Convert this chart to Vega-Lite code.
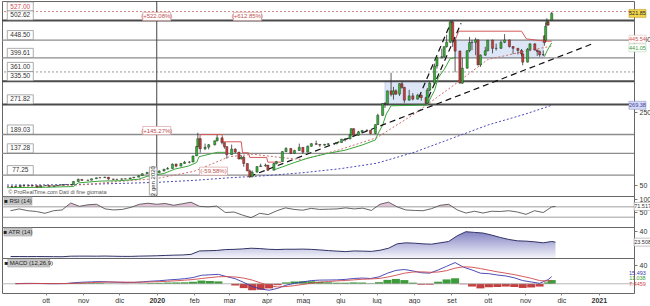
{
"$schema":"https://vega.github.io/schema/vega-lite/v6.json",
"padding":0,
"spacing":0,
"bounds":"flush",
"resolve":{"scale":{"x":"independent"},"axis":{"x":"independent"}},
"config":{"view":{"stroke":"#666","strokeWidth":1},"font":"Liberation Sans","axis":{"labelFont":"Liberation Sans","labelOverlap":false,"labelSeparation":0},"axisY":{"labelOverlap":false}},
"datasets":{
"px":[
{"d":"2019-09-03","o":45.0,"h":45.9,"l":44.2,"c":45.0},
{"d":"2019-09-06","o":45.0,"h":46.5,"l":44.8,"c":45.9},
{"d":"2019-09-10","o":45.9,"h":49.6,"l":45.5,"c":49.4},
{"d":"2019-09-13","o":49.4,"h":50.4,"l":48.6,"c":49.1},
{"d":"2019-09-17","o":49.1,"h":49.8,"l":48.2,"c":49.0},
{"d":"2019-09-20","o":49.0,"h":49.6,"l":47.6,"c":48.1},
{"d":"2019-09-24","o":48.1,"h":48.4,"l":44.0,"c":44.5},
{"d":"2019-09-27","o":44.5,"h":49.0,"l":44.2,"c":48.4},
{"d":"2019-10-01","o":48.4,"h":49.5,"l":47.6,"c":48.9},
{"d":"2019-10-04","o":48.9,"h":49.0,"l":45.8,"c":46.3},
{"d":"2019-10-08","o":46.3,"h":48.6,"l":46.0,"c":48.3},
{"d":"2019-10-11","o":48.3,"h":50.2,"l":47.8,"c":49.6},
{"d":"2019-10-15","o":49.6,"h":52.0,"l":49.2,"c":51.6},
{"d":"2019-10-18","o":51.6,"h":52.6,"l":50.8,"c":51.4},
{"d":"2019-10-22","o":51.4,"h":52.0,"l":50.6,"c":51.1},
{"d":"2019-10-24","o":51.0,"h":60.7,"l":50.8,"c":59.9},
{"d":"2019-10-28","o":59.9,"h":68.2,"l":59.4,"c":65.6},
{"d":"2019-10-31","o":65.6,"h":66.0,"l":62.0,"c":62.8},
{"d":"2019-11-05","o":62.8,"h":64.9,"l":62.3,"c":63.4},
{"d":"2019-11-08","o":63.4,"h":67.8,"l":63.0,"c":67.4},
{"d":"2019-11-12","o":67.4,"h":70.6,"l":67.0,"c":70.0},
{"d":"2019-11-15","o":70.0,"h":71.2,"l":69.0,"c":70.4},
{"d":"2019-11-19","o":70.4,"h":72.8,"l":69.8,"c":71.9},
{"d":"2019-11-22","o":71.9,"h":72.2,"l":64.4,"c":66.6},
{"d":"2019-11-26","o":66.6,"h":67.4,"l":64.8,"c":65.8},
{"d":"2019-11-29","o":65.8,"h":66.6,"l":65.4,"c":66.0},
{"d":"2019-12-03","o":66.0,"h":67.6,"l":65.0,"c":67.2},
{"d":"2019-12-06","o":67.2,"h":67.8,"l":66.4,"c":67.0},
{"d":"2019-12-10","o":67.0,"h":70.2,"l":66.8,"c":69.8},
{"d":"2019-12-13","o":69.8,"h":72.4,"l":69.2,"c":71.7},
{"d":"2019-12-17","o":71.7,"h":76.8,"l":71.2,"c":75.8},
{"d":"2019-12-20","o":75.8,"h":82.6,"l":75.6,"c":81.1},
{"d":"2019-12-24","o":81.1,"h":85.2,"l":80.6,"c":85.1},
{"d":"2019-12-27","o":85.1,"h":87.0,"l":84.0,"c":86.1},
{"d":"2019-12-31","o":86.1,"h":86.2,"l":81.6,"c":83.7},
{"d":"2020-01-03","o":83.7,"h":90.8,"l":83.6,"c":88.6},
{"d":"2020-01-07","o":88.6,"h":94.3,"l":88.0,"c":93.8},
{"d":"2020-01-10","o":93.8,"h":99.7,"l":93.0,"c":95.6},
{"d":"2020-01-14","o":95.6,"h":109.5,"l":95.0,"c":107.6},
{"d":"2020-01-17","o":107.6,"h":109.0,"l":99.0,"c":102.1},
{"d":"2020-01-21","o":102.1,"h":110.3,"l":101.8,"c":109.4},
{"d":"2020-01-24","o":109.4,"h":116.4,"l":108.6,"c":113.0},
{"d":"2020-01-28","o":113.0,"h":115.6,"l":109.8,"c":113.4},
{"d":"2020-01-31","o":113.4,"h":130.6,"l":113.0,"c":130.1},
{"d":"2020-02-03","o":130.1,"h":157.2,"l":130.0,"c":156.0},
{"d":"2020-02-04","o":156.0,"h":193.8,"l":155.0,"c":177.4},
{"d":"2020-02-06","o":177.4,"h":179.0,"l":139.0,"c":149.8},
{"d":"2020-02-10","o":149.8,"h":164.0,"l":146.0,"c":154.3},
{"d":"2020-02-13","o":154.3,"h":163.0,"l":148.0,"c":160.8},
{"d":"2020-02-18","o":160.8,"h":172.6,"l":159.0,"c":171.7},
{"d":"2020-02-20","o":171.7,"h":188.0,"l":170.0,"c":179.9},
{"d":"2020-02-24","o":179.9,"h":180.4,"l":162.0,"c":166.8},
{"d":"2020-02-26","o":166.8,"h":167.0,"l":150.0,"c":155.8},
{"d":"2020-02-28","o":155.8,"h":156.0,"l":122.3,"c":133.6},
{"d":"2020-03-03","o":133.6,"h":161.4,"l":133.0,"c":149.1},
{"d":"2020-03-06","o":149.1,"h":151.0,"l":137.2,"c":140.7},
{"d":"2020-03-09","o":140.7,"h":140.8,"l":121.2,"c":121.6},
{"d":"2020-03-11","o":121.6,"h":132.0,"l":121.0,"c":126.8},
{"d":"2020-03-13","o":126.8,"h":129.6,"l":100.4,"c":109.3},
{"d":"2020-03-16","o":109.3,"h":109.4,"l":88.4,"c":89.0},
{"d":"2020-03-18","o":89.0,"h":93.0,"l":70.1,"c":72.2},
{"d":"2020-03-20","o":72.2,"h":90.0,"l":72.0,"c":85.5},
{"d":"2020-03-24","o":85.5,"h":101.3,"l":85.0,"c":101.0},
{"d":"2020-03-27","o":101.0,"h":109.0,"l":100.0,"c":102.9},
{"d":"2020-03-31","o":102.9,"h":109.0,"l":100.4,"c":104.8},
{"d":"2020-04-02","o":104.8,"h":105.0,"l":88.5,"c":90.9},
{"d":"2020-04-07","o":90.9,"h":111.0,"l":90.5,"c":109.1},
{"d":"2020-04-09","o":109.1,"h":116.5,"l":107.0,"c":114.6},
{"d":"2020-04-14","o":114.6,"h":143.6,"l":114.0,"c":142.0},
{"d":"2020-04-17","o":142.0,"h":154.0,"l":141.0,"c":150.8},
{"d":"2020-04-21","o":150.8,"h":151.0,"l":135.0,"c":137.3},
{"d":"2020-04-24","o":137.3,"h":147.0,"l":136.0,"c":145.0},
{"d":"2020-04-28","o":145.0,"h":164.0,"l":144.0,"c":153.8},
{"d":"2020-05-01","o":153.8,"h":154.0,"l":136.6,"c":140.3},
{"d":"2020-05-05","o":140.3,"h":159.0,"l":140.0,"c":156.8},
{"d":"2020-05-08","o":156.8,"h":165.0,"l":155.0,"c":163.9},
{"d":"2020-05-12","o":163.9,"h":172.0,"l":161.0,"c":161.9},
{"d":"2020-05-15","o":161.9,"h":161.9,"l":155.0,"c":159.8},
{"d":"2020-05-19","o":159.8,"h":163.0,"l":158.0,"c":162.2},
{"d":"2020-05-22","o":162.2,"h":165.0,"l":160.0,"c":163.4},
{"d":"2020-05-27","o":163.4,"h":165.0,"l":160.0,"c":164.0},
{"d":"2020-05-29","o":164.0,"h":168.0,"l":162.0,"c":167.0},
{"d":"2020-06-02","o":167.0,"h":177.0,"l":166.0,"c":176.3},
{"d":"2020-06-05","o":176.3,"h":177.5,"l":170.0,"c":177.1},
{"d":"2020-06-09","o":177.1,"h":190.0,"l":176.0,"c":188.0},
{"d":"2020-06-10","o":188.0,"h":206.0,"l":187.0,"c":205.0},
{"d":"2020-06-12","o":205.0,"h":206.0,"l":184.0,"c":187.1},
{"d":"2020-06-16","o":187.1,"h":199.0,"l":185.0,"c":196.4},
{"d":"2020-06-19","o":196.4,"h":201.0,"l":193.0,"c":200.2},
{"d":"2020-06-23","o":200.2,"h":203.0,"l":197.0,"c":200.9},
{"d":"2020-06-26","o":200.9,"h":201.0,"l":190.0,"c":191.9},
{"d":"2020-06-30","o":191.9,"h":217.0,"l":190.0,"c":216.0},
{"d":"2020-07-02","o":216.0,"h":246.0,"l":215.0,"c":241.7},
{"d":"2020-07-06","o":241.7,"h":275.0,"l":240.0,"c":274.3},
{"d":"2020-07-08","o":274.3,"h":278.0,"l":262.0,"c":273.2},
{"d":"2020-07-10","o":273.2,"h":310.0,"l":270.0,"c":308.9},
{"d":"2020-07-13","o":308.9,"h":358.8,"l":294.0,"c":299.4},
{"d":"2020-07-15","o":299.4,"h":320.0,"l":285.0,"c":309.2},
{"d":"2020-07-17","o":309.2,"h":313.0,"l":298.0,"c":300.1},
{"d":"2020-07-20","o":300.1,"h":330.0,"l":295.0,"c":328.6},
{"d":"2020-07-22","o":328.6,"h":335.0,"l":315.0,"c":318.5},
{"d":"2020-07-24","o":318.5,"h":320.0,"l":276.0,"c":283.4},
{"d":"2020-07-28","o":283.4,"h":312.0,"l":282.0,"c":295.3},
{"d":"2020-07-31","o":295.3,"h":303.0,"l":283.0,"c":286.2},
{"d":"2020-08-04","o":286.2,"h":301.0,"l":285.0,"c":297.0},
{"d":"2020-08-07","o":297.0,"h":299.0,"l":282.0,"c":290.5},
{"d":"2020-08-11","o":290.5,"h":293.0,"l":272.0,"c":274.9},
{"d":"2020-08-12","o":274.9,"h":317.0,"l":274.0,"c":311.0},
{"d":"2020-08-14","o":311.0,"h":333.0,"l":308.0,"c":330.1},
{"d":"2020-08-18","o":330.1,"h":384.0,"l":329.0,"c":377.4},
{"d":"2020-08-20","o":377.4,"h":404.0,"l":370.0,"c":400.4},
{"d":"2020-08-24","o":400.4,"h":425.0,"l":398.0,"c":402.8},
{"d":"2020-08-26","o":402.8,"h":431.0,"l":400.0,"c":430.6},
{"d":"2020-08-28","o":430.6,"h":463.0,"l":428.0,"c":442.7},
{"d":"2020-08-31","o":442.7,"h":500.1,"l":440.0,"c":498.3},
{"d":"2020-09-02","o":498.3,"h":502.5,"l":430.0,"c":447.4},
{"d":"2020-09-04","o":447.4,"h":452.0,"l":360.0,"c":418.3},
{"d":"2020-09-08","o":418.3,"h":420.0,"l":329.9,"c":330.2},
{"d":"2020-09-10","o":330.2,"h":400.0,"l":328.0,"c":371.3},
{"d":"2020-09-14","o":371.3,"h":420.0,"l":370.0,"c":419.6},
{"d":"2020-09-16","o":419.6,"h":457.0,"l":415.0,"c":441.8},
{"d":"2020-09-18","o":441.8,"h":449.0,"l":421.0,"c":442.2},
{"d":"2020-09-21","o":442.2,"h":455.0,"l":407.0,"c":449.4},
{"d":"2020-09-23","o":449.4,"h":450.0,"l":379.0,"c":380.4},
{"d":"2020-09-25","o":380.4,"h":409.0,"l":375.0,"c":407.3},
{"d":"2020-09-29","o":407.3,"h":430.0,"l":405.0,"c":419.1},
{"d":"2020-10-01","o":419.1,"h":448.9,"l":418.0,"c":448.2},
{"d":"2020-10-05","o":448.2,"h":450.0,"l":412.0,"c":425.7},
{"d":"2020-10-08","o":425.7,"h":439.0,"l":420.0,"c":425.9},
{"d":"2020-10-12","o":425.9,"h":448.0,"l":424.0,"c":442.3},
{"d":"2020-10-15","o":442.3,"h":465.0,"l":440.0,"c":448.9},
{"d":"2020-10-19","o":448.9,"h":450.0,"l":428.0,"c":430.8},
{"d":"2020-10-22","o":430.8,"h":432.0,"l":410.0,"c":425.8},
{"d":"2020-10-26","o":425.8,"h":427.0,"l":409.0,"c":420.3},
{"d":"2020-10-29","o":420.3,"h":424.0,"l":405.0,"c":410.8},
{"d":"2020-10-30","o":410.8,"h":411.0,"l":379.1,"c":388.0},
{"d":"2020-11-03","o":388.0,"h":427.0,"l":387.0,"c":423.4},
{"d":"2020-11-05","o":423.4,"h":440.0,"l":418.0,"c":438.1},
{"d":"2020-11-09","o":438.1,"h":440.0,"l":420.0,"c":421.3},
{"d":"2020-11-11","o":421.3,"h":422.0,"l":405.0,"c":417.1},
{"d":"2020-11-13","o":417.1,"h":420.0,"l":403.0,"c":408.5},
{"d":"2020-11-16","o":408.5,"h":420.0,"l":405.0,"c":408.1},
{"d":"2020-11-17","o":460.2,"h":462.0,"l":433.2,"c":441.6},
{"d":"2020-11-18","o":448.3,"h":496.0,"l":443.5,"c":486.6},
{"d":"2020-11-19","o":492.0,"h":508.6,"l":487.6,"c":499.3},
{"d":"2020-11-20","o":498.0,"h":502.5,"l":489.1,"c":489.6},
{"d":"2020-11-23","o":503.5,"h":526.0,"l":501.8,"c":521.85}
],
"ind":[
{"d":"2019-09-06","rsi":55,"atr":2.2,"macd":0.3,"sig":0.2,"hist":0.1},
{"d":"2019-09-13","rsi":62,"atr":2.2,"macd":0.8,"sig":0.4,"hist":0.4},
{"d":"2019-09-20","rsi":55,"atr":2.1,"macd":0.9,"sig":0.6,"hist":0.3},
{"d":"2019-09-27","rsi":52,"atr":2.2,"macd":0.6,"sig":0.6,"hist":0.0},
{"d":"2019-10-04","rsi":45,"atr":2.1,"macd":0.2,"sig":0.5,"hist":-0.3},
{"d":"2019-10-11","rsi":55,"atr":2.0,"macd":0.3,"sig":0.4,"hist":-0.1},
{"d":"2019-10-18","rsi":58,"atr":1.9,"macd":0.6,"sig":0.5,"hist":0.1},
{"d":"2019-10-25","rsi":85,"atr":2.7,"macd":2.5,"sig":1.0,"hist":1.5},
{"d":"2019-11-01","rsi":72,"atr":2.8,"macd":3.5,"sig":1.8,"hist":1.7},
{"d":"2019-11-08","rsi":78,"atr":2.8,"macd":4.2,"sig":2.6,"hist":1.6},
{"d":"2019-11-15","rsi":80,"atr":2.7,"macd":4.8,"sig":3.3,"hist":1.5},
{"d":"2019-11-22","rsi":62,"atr":2.9,"macd":4.2,"sig":3.7,"hist":0.5},
{"d":"2019-11-29","rsi":58,"atr":2.6,"macd":3.4,"sig":3.7,"hist":-0.3},
{"d":"2019-12-06","rsi":60,"atr":2.4,"macd":2.9,"sig":3.5,"hist":-0.6},
{"d":"2019-12-13","rsi":68,"atr":2.4,"macd":3.0,"sig":3.3,"hist":-0.3},
{"d":"2019-12-20","rsi":80,"atr":2.8,"macd":4.2,"sig":3.5,"hist":0.7},
{"d":"2019-12-27","rsi":84,"atr":3.0,"macd":5.6,"sig":4.0,"hist":1.6},
{"d":"2020-01-03","rsi":80,"atr":3.3,"macd":6.6,"sig":4.6,"hist":2.0},
{"d":"2020-01-10","rsi":83,"atr":3.8,"macd":8.2,"sig":5.5,"hist":2.7},
{"d":"2020-01-17","rsi":76,"atr":4.2,"macd":9.5,"sig":6.6,"hist":2.9},
{"d":"2020-01-24","rsi":82,"atr":4.5,"macd":11.0,"sig":7.8,"hist":3.2},
{"d":"2020-01-31","rsi":88,"atr":5.4,"macd":13.5,"sig":9.2,"hist":4.3},
{"d":"2020-02-07","rsi":72,"atr":10.5,"macd":18.5,"sig":11.5,"hist":7.0},
{"d":"2020-02-14","rsi":70,"atr":10.8,"macd":19.5,"sig":13.4,"hist":6.1},
{"d":"2020-02-21","rsi":73,"atr":11.2,"macd":20.5,"sig":15.3,"hist":5.2},
{"d":"2020-02-28","rsi":48,"atr":12.5,"macd":15.5,"sig":15.6,"hist":-0.1},
{"d":"2020-03-06","rsi":50,"atr":12.8,"macd":11.0,"sig":14.7,"hist":-3.7},
{"d":"2020-03-13","rsi":38,"atr":13.5,"macd":3.0,"sig":12.4,"hist":-9.4},
{"d":"2020-03-20","rsi":28,"atr":14.5,"macd":-6.0,"sig":8.0,"hist":-14.0},
{"d":"2020-03-27","rsi":45,"atr":14.0,"macd":-11.0,"sig":2.0,"hist":-13.0},
{"d":"2020-04-03","rsi":40,"atr":13.0,"macd":-14.0,"sig":-4.0,"hist":-10.0},
{"d":"2020-04-10","rsi":55,"atr":12.5,"macd":-10.0,"sig":-7.0,"hist":-3.0},
{"d":"2020-04-17","rsi":66,"atr":13.0,"macd":-3.0,"sig":-6.0,"hist":3.0},
{"d":"2020-04-24","rsi":60,"atr":13.0,"macd":1.0,"sig":-4.0,"hist":5.0},
{"d":"2020-05-01","rsi":57,"atr":13.2,"macd":4.0,"sig":-1.5,"hist":5.5},
{"d":"2020-05-08","rsi":64,"atr":12.8,"macd":7.0,"sig":1.5,"hist":5.5},
{"d":"2020-05-15","rsi":60,"atr":12.0,"macd":8.0,"sig":3.5,"hist":4.5},
{"d":"2020-05-22","rsi":61,"atr":11.0,"macd":8.2,"sig":5.0,"hist":3.2},
{"d":"2020-05-29","rsi":62,"atr":10.2,"macd":8.5,"sig":6.2,"hist":2.3},
{"d":"2020-06-05","rsi":66,"atr":9.5,"macd":9.5,"sig":7.2,"hist":2.3},
{"d":"2020-06-12","rsi":62,"atr":10.5,"macd":11.5,"sig":8.5,"hist":3.0},
{"d":"2020-06-19","rsi":65,"atr":10.2,"macd":12.5,"sig":9.8,"hist":2.7},
{"d":"2020-06-26","rsi":56,"atr":9.8,"macd":11.5,"sig":10.5,"hist":1.0},
{"d":"2020-07-03","rsi":80,"atr":11.5,"macd":15.0,"sig":11.5,"hist":3.5},
{"d":"2020-07-10","rsi":88,"atr":14.5,"macd":23.0,"sig":14.5,"hist":8.5},
{"d":"2020-07-17","rsi":70,"atr":21.0,"macd":29.0,"sig":18.5,"hist":10.5},
{"d":"2020-07-24","rsi":58,"atr":22.5,"macd":31.0,"sig":23.0,"hist":8.0},
{"d":"2020-07-31","rsi":56,"atr":22.0,"macd":28.0,"sig":25.5,"hist":2.5},
{"d":"2020-08-07","rsi":55,"atr":21.0,"macd":24.0,"sig":26.0,"hist":-2.0},
{"d":"2020-08-14","rsi":63,"atr":20.5,"macd":23.0,"sig":25.0,"hist":-2.0},
{"d":"2020-08-21","rsi":76,"atr":22.5,"macd":30.0,"sig":25.5,"hist":4.5},
{"d":"2020-08-28","rsi":80,"atr":24.5,"macd":38.0,"sig":28.5,"hist":9.5},
{"d":"2020-09-04","rsi":58,"atr":33.0,"macd":46.0,"sig":34.0,"hist":12.0},
{"d":"2020-09-11","rsi":46,"atr":39.0,"macd":36.0,"sig":37.0,"hist":-1.0},
{"d":"2020-09-18","rsi":53,"atr":38.0,"macd":30.0,"sig":36.0,"hist":-6.0},
{"d":"2020-09-25","rsi":46,"atr":37.0,"macd":23.0,"sig":33.0,"hist":-10.0},
{"d":"2020-10-02","rsi":53,"atr":34.0,"macd":22.0,"sig":29.5,"hist":-7.5},
{"d":"2020-10-09","rsi":52,"atr":30.5,"macd":19.0,"sig":26.0,"hist":-7.0},
{"d":"2020-10-16","rsi":55,"atr":27.5,"macd":17.0,"sig":23.0,"hist":-6.0},
{"d":"2020-10-23","rsi":50,"atr":25.5,"macd":13.0,"sig":20.0,"hist":-7.0},
{"d":"2020-10-30","rsi":41,"atr":25.0,"macd":7.0,"sig":16.0,"hist":-9.0},
{"d":"2020-11-06","rsi":55,"atr":24.0,"macd":4.0,"sig":12.0,"hist":-8.0},
{"d":"2020-11-13","rsi":48,"atr":22.5,"macd":1.0,"sig":7.0,"hist":-6.0},
{"d":"2020-11-20","rsi":70,"atr":24.5,"macd":9.0,"sig":6.0,"hist":3.0},
{"d":"2020-11-23","rsi":71.5,"atr":23.5,"macd":15.5,"sig":7.4,"hist":8.1}
],
"lv":[
{"v":527,"lbl":"527.00","k":"target"},
{"v":502.62,"lbl":"502.62","k":"major"},
{"v":448.5,"lbl":"448.50","k":"minor"},
{"v":399.61,"lbl":"399.61","k":"minor"},
{"v":361,"lbl":"361.00","k":"dotted"},
{"v":335.5,"lbl":"335.50","k":"major"},
{"v":271.82,"lbl":"271.82","k":"major"},
{"v":189.03,"lbl":"189.03","k":"minor"},
{"v":137.28,"lbl":"137.28","k":"minor"},
{"v":77.25,"lbl":"77.25","k":"minor"}
],
"ma":[
{"d":"2019-08-30","k":"ma200","v":50},{"d":"2019-10-01","k":"ma200","v":50.5},{"d":"2019-11-01","k":"ma200","v":52},{"d":"2019-12-01","k":"ma200","v":54.5},{"d":"2020-01-01","k":"ma200","v":57.5},{"d":"2020-02-01","k":"ma200","v":63},{"d":"2020-03-01","k":"ma200","v":70},{"d":"2020-04-01","k":"ma200","v":76},{"d":"2020-05-01","k":"ma200","v":84},{"d":"2020-06-01","k":"ma200","v":95},{"d":"2020-07-01","k":"ma200","v":110},{"d":"2020-08-01","k":"ma200","v":140},{"d":"2020-09-01","k":"ma200","v":178},{"d":"2020-10-01","k":"ma200","v":215},{"d":"2020-11-01","k":"ma200","v":245},{"d":"2020-11-23","k":"ma200","v":269.4},
{"d":"2019-08-30","k":"ma50","v":46},{"d":"2019-10-01","k":"ma50","v":47.5},{"d":"2019-11-01","k":"ma50","v":51},{"d":"2019-12-01","k":"ma50","v":60},{"d":"2020-01-01","k":"ma50","v":68},{"d":"2020-02-01","k":"ma50","v":88},{"d":"2020-03-01","k":"ma50","v":128},{"d":"2020-03-20","k":"ma50","v":135},{"d":"2020-04-15","k":"ma50","v":125},{"d":"2020-05-01","k":"ma50","v":120},{"d":"2020-06-01","k":"ma50","v":148},{"d":"2020-07-01","k":"ma50","v":180},{"d":"2020-08-01","k":"ma50","v":245},{"d":"2020-09-01","k":"ma50","v":320},{"d":"2020-10-01","k":"ma50","v":395},{"d":"2020-11-01","k":"ma50","v":418},{"d":"2020-11-23","k":"ma50","v":432}
],
"stop":[
{"d":"2019-08-30","v":43,"seg":"g1","k":"g"},{"d":"2019-10-01","v":44,"seg":"g1","k":"g"},{"d":"2019-10-24","v":46,"seg":"g1","k":"g"},{"d":"2019-10-28","v":56,"seg":"g1","k":"g"},{"d":"2019-11-15","v":61,"seg":"g1","k":"g"},{"d":"2019-12-01","v":62,"seg":"g1","k":"g"},{"d":"2019-12-17","v":66,"seg":"g1","k":"g"},{"d":"2019-12-24","v":74,"seg":"g1","k":"g"},{"d":"2020-01-07","v":82,"seg":"g1","k":"g"},{"d":"2020-01-16","v":94,"seg":"g1","k":"g"},{"d":"2020-01-27","v":102,"seg":"g1","k":"g"},{"d":"2020-02-03","v":112,"seg":"g1","k":"g"},{"d":"2020-02-05","v":128,"seg":"g1","k":"g"},{"d":"2020-02-20","v":140,"seg":"g1","k":"g"},{"d":"2020-02-27","v":140,"seg":"g1","k":"g"},
{"d":"2020-02-05","v":150,"seg":"r1","k":"r"},{"d":"2020-02-06","v":189,"seg":"r1","k":"r"},{"d":"2020-02-24","v":189,"seg":"r1","k":"r"},{"d":"2020-02-25","v":169,"seg":"r1","k":"r"},{"d":"2020-03-11","v":169,"seg":"r1","k":"r"},{"d":"2020-03-12","v":139,"seg":"r1","k":"r"},{"d":"2020-03-17","v":139,"seg":"r1","k":"r"},{"d":"2020-03-18","v":126,"seg":"r1","k":"r"},{"d":"2020-04-01","v":126,"seg":"r1","k":"r"},{"d":"2020-04-02","v":113,"seg":"r1","k":"r"},{"d":"2020-04-13","v":113,"seg":"r1","k":"r"},
{"d":"2020-04-08","v":93,"seg":"g2","k":"g"},{"d":"2020-04-14","v":100,"seg":"g2","k":"g"},{"d":"2020-04-24","v":112,"seg":"g2","k":"g"},{"d":"2020-05-05","v":124,"seg":"g2","k":"g"},{"d":"2020-05-20","v":136,"seg":"g2","k":"g"},{"d":"2020-06-05","v":146,"seg":"g2","k":"g"},{"d":"2020-06-19","v":160,"seg":"g2","k":"g"},{"d":"2020-06-30","v":174,"seg":"g2","k":"g"},{"d":"2020-07-02","v":190,"seg":"g2","k":"g"},{"d":"2020-07-06","v":215,"seg":"g2","k":"g"},{"d":"2020-07-09","v":245,"seg":"g2","k":"g"},{"d":"2020-07-13","v":268,"seg":"g2","k":"g"},{"d":"2020-08-12","v":270,"seg":"g2","k":"g"},{"d":"2020-08-14","v":285,"seg":"g2","k":"g"},{"d":"2020-08-18","v":310,"seg":"g2","k":"g"},{"d":"2020-08-21","v":345,"seg":"g2","k":"g"},{"d":"2020-08-26","v":368,"seg":"g2","k":"g"},{"d":"2020-08-31","v":398,"seg":"g2","k":"g"},{"d":"2020-09-04","v":400,"seg":"g2","k":"g"},
{"d":"2020-09-04","v":448,"seg":"r2","k":"r"},{"d":"2020-09-07","v":473,"seg":"r2","k":"r"},{"d":"2020-10-29","v":473,"seg":"r2","k":"r"},{"d":"2020-11-02","v":452,"seg":"r2","k":"r"},{"d":"2020-11-17","v":445.5,"seg":"r2","k":"r"},{"d":"2020-11-23","v":445.54,"seg":"r2","k":"r"},
{"d":"2020-11-17","v":403,"seg":"g3","k":"g"},{"d":"2020-11-19","v":418,"seg":"g3","k":"g"},{"d":"2020-11-23","v":441.05,"seg":"g3","k":"g"}
],
"trend":[
{"d":"2020-03-18","v":74,"id":"t1"},{"d":"2020-12-28","v":440,"id":"t1"},
{"d":"2020-08-05","v":291,"id":"t2"},{"d":"2020-09-01","v":500,"id":"t2"},
{"d":"2020-08-13","v":291,"id":"t3"},{"d":"2020-09-09","v":495,"id":"t3"}
],
"box":[
{"d1":"2020-07-08","d2":"2020-08-14","lo":271.82,"hi":335.5},
{"d1":"2020-09-04","d2":"2020-11-16","lo":399.61,"hi":448.5}
],
"pct":[
{"d":"2020-01-01","v":502.62,"t":"(+522.08%)"},
{"d":"2020-03-16","v":502.62,"t":"(+612.85%)"},
{"d":"2020-01-01","v":189.03,"t":"(+145.27%)"},
{"d":"2020-02-17","v":77.25,"t":"(-59.58%)"}
]
},
"vconcat":[
{
"width":632,"height":195,
"layer":[
{"data":{"name":"box"},"mark":{"type":"rect","fill":"#dce6f6","stroke":"#a8b8d8","strokeWidth":0.6},
 "encoding":{"x":{"field":"d1","type":"temporal","scale":{"domain":[{"year":2019,"month":8,"date":30},{"year":2021,"month":1,"date":26}]},"axis":null},"x2":{"field":"d2"},
 "y":{"field":"lo","type":"quantitative","scale":{"domain":[20,556],"nice":false,"zero":false},"title":null,"axis":{"orient":"right","title":null,"values":[50,100,150,200,250,300,350,400,450,500,550],"labelOverlap":false,"labelSeparation":0,"labelFontSize":7,"labelColor":"#333","tickSize":3,"tickColor":"#777","domain":false,"grid":false,"labelPadding":2}},"y2":{"field":"hi"}}},
{"data":{"name":"lv"},"transform":[{"filter":"datum.k=='minor'"}],"mark":{"type":"rule","color":"#8c8c8c","strokeWidth":1.3},"encoding":{"y":{"field":"v","type":"quantitative","title":null}}},
{"data":{"name":"lv"},"transform":[{"filter":"datum.k=='major'"}],"mark":{"type":"rule","color":"#4a4a4a","strokeWidth":2},"encoding":{"y":{"field":"v","type":"quantitative","title":null}}},
{"data":{"name":"lv"},"transform":[{"filter":"datum.k=='dotted'"}],"mark":{"type":"rule","color":"#999","strokeWidth":1,"strokeDash":[2,2]},"encoding":{"y":{"field":"v","type":"quantitative","title":null}}},
{"data":{"name":"lv"},"transform":[{"filter":"datum.k=='target'"}],"mark":{"type":"rule","color":"#d08a8a","strokeWidth":1,"strokeDash":[2,2]},"encoding":{"y":{"field":"v","type":"quantitative","title":null}}},
{"data":{"name":"ma"},"transform":[{"filter":"datum.k=='ma200'"}],"mark":{"type":"line","color":"#4a4ab8","strokeWidth":1,"strokeDash":[2,2]},"encoding":{"x":{"field":"d","type":"temporal","axis":null},"y":{"field":"v","type":"quantitative","title":null}}},
{"data":{"name":"ma"},"transform":[{"filter":"datum.k=='ma50'"}],"mark":{"type":"line","color":"#d07070","strokeWidth":1,"strokeDash":[2,2]},"encoding":{"x":{"field":"d","type":"temporal","axis":null},"y":{"field":"v","type":"quantitative","title":null}}},
{"data":{"name":"stop"},"mark":{"type":"line","strokeWidth":1},"encoding":{"x":{"field":"d","type":"temporal","axis":null},"y":{"field":"v","type":"quantitative","title":null},"detail":{"field":"seg"},"color":{"field":"k","type":"nominal","scale":{"domain":["g","r"],"range":["#3aa63a","#d65a5a"]},"legend":null}}},
{"data":{"name":"trend"},"mark":{"type":"line","color":"#111","strokeWidth":1.2,"strokeDash":[6,4]},"encoding":{"x":{"field":"d","type":"temporal","axis":null},"y":{"field":"v","type":"quantitative","title":null},"detail":{"field":"id"}}},
{"data":{"values":[{}]},"mark":{"type":"rule","color":"#444","strokeWidth":1},"encoding":{"x":{"datum":{"year":2020,"month":1,"date":1},"type":"temporal","axis":null}}},
{"data":{"name":"px"},"mark":{"type":"rule","color":"#333","strokeWidth":0.8},"encoding":{"x":{"field":"d","type":"temporal","axis":null},"y":{"field":"l","type":"quantitative","title":null},"y2":{"field":"h"}}},
{"data":{"name":"px"},"mark":{"type":"bar","size":2.2,"stroke":"#222","strokeWidth":0.4},"encoding":{"x":{"field":"d","type":"temporal","axis":null},"y":{"field":"o","type":"quantitative","title":null},"y2":{"field":"c"},"fill":{"condition":{"test":"datum.c >= datum.o","value":"#33b033"},"value":"#cc3a3a"}}},
{"data":{"name":"lv"},"mark":{"type":"point","shape":"M-1,-0.35H1V0.35H-1Z","size":676,"filled":true,"fill":"white","stroke":"#888","strokeWidth":0.7,"opacity":1,"yOffset":-5},"encoding":{"x":{"datum":{"year":2019,"month":9,"date":10},"type":"temporal","axis":null},"y":{"field":"v","type":"quantitative","title":null}}},
{"data":{"name":"lv"},"mark":{"type":"text","fontSize":6.5,"yOffset":-5,"align":"center","baseline":"middle"},"encoding":{"x":{"datum":{"year":2019,"month":9,"date":10},"type":"temporal","axis":null},"y":{"field":"v","type":"quantitative","title":null},"text":{"field":"lbl"},"color":{"condition":{"test":"datum.k=='target'","value":"#d05050"},"value":"#333"}}},
{"data":{"name":"pct"},"mark":{"type":"point","shape":"M-1,-0.29H1V0.29H-1Z","size":784,"filled":true,"fill":"white","stroke":"#d8a0a0","strokeWidth":0.7,"opacity":1,"yOffset":-4},"encoding":{"x":{"field":"d","type":"temporal","axis":null},"y":{"field":"v","type":"quantitative","title":null}}},
{"data":{"name":"pct"},"mark":{"type":"text","fontSize":6,"yOffset":-4,"color":"#c05050","baseline":"middle"},"encoding":{"x":{"field":"d","type":"temporal","axis":null},"y":{"field":"v","type":"quantitative","title":null},"text":{"field":"t"}}},
{"data":{"values":[{"v":521.85,"t":"521.85"}]},"mark":{"type":"point","shape":"M-1,-0.47H1V0.47H-1Z","size":289,"filled":true,"fill":"#f2d64b","stroke":"#b09020","strokeWidth":0.5,"opacity":1},"encoding":{"x":{"datum":{"year":2021,"month":2,"date":2},"type":"temporal","axis":null},"y":{"field":"v","type":"quantitative","title":null}}},
{"data":{"values":[{"v":269.38,"t":"269.38"}]},"mark":{"type":"point","shape":"M-1,-0.47H1V0.47H-1Z","size":289,"filled":true,"fill":"#d6dcf5","stroke":"#8088c0","strokeWidth":0.5,"opacity":1},"encoding":{"x":{"datum":{"year":2021,"month":2,"date":2},"type":"temporal","axis":null},"y":{"field":"v","type":"quantitative","title":null}}},
{"data":{"values":[{"v":445.54}]},"mark":{"type":"point","shape":"M-1,-0.47H1V0.47H-1Z","size":289,"filled":true,"fill":"white","stroke":"#e0b0b0","strokeWidth":0.5,"opacity":1,"yOffset":-2},"encoding":{"x":{"datum":{"year":2021,"month":2,"date":2},"type":"temporal","axis":null},"y":{"field":"v","type":"quantitative","title":null}}},
{"data":{"values":[{"v":441.05}]},"mark":{"type":"point","shape":"M-1,-0.47H1V0.47H-1Z","size":289,"filled":true,"fill":"white","stroke":"#a8d0a8","strokeWidth":0.5,"opacity":1,"yOffset":5},"encoding":{"x":{"datum":{"year":2021,"month":2,"date":2},"type":"temporal","axis":null},"y":{"field":"v","type":"quantitative","title":null}}},
{"data":{"values":[{"v":521.85,"t":"521.85","c":"#222"},{"v":269.38,"t":"269.38","c":"#4040a0"}]},"mark":{"type":"text","fontSize":5.5,"baseline":"middle"},"encoding":{"x":{"datum":{"year":2021,"month":2,"date":2},"type":"temporal","axis":null},"y":{"field":"v","type":"quantitative","title":null},"text":{"field":"t"},"color":{"field":"c","type":"nominal","scale":null}}},
{"data":{"values":[{"v":445.54,"t":"445.54"}]},"mark":{"type":"text","fontSize":5.5,"baseline":"middle","color":"#d05050","yOffset":-2},"encoding":{"x":{"datum":{"year":2021,"month":2,"date":2},"type":"temporal","axis":null},"y":{"field":"v","type":"quantitative","title":null},"text":{"field":"t"}}},
{"data":{"values":[{"v":441.05,"t":"441.05"}]},"mark":{"type":"text","fontSize":5.5,"baseline":"middle","color":"#3a9a3a","yOffset":5},"encoding":{"x":{"datum":{"year":2021,"month":2,"date":2},"type":"temporal","axis":null},"y":{"field":"v","type":"quantitative","title":null},"text":{"field":"t"}}},
{"data":{"values":[{"v":61}]},"mark":{"type":"point","shape":"M-0.27,-1H0.27V1H-0.27Z","size":784,"filled":true,"fill":"white","stroke":"#888","strokeWidth":0.7,"opacity":1},"encoding":{"x":{"datum":{"year":2019,"month":12,"date":29},"type":"temporal","axis":null},"y":{"field":"v","type":"quantitative","title":null}}},
{"data":{"values":[{"v":61,"t":"2 gen 2020"}]},"mark":{"type":"text","fontSize":6,"angle":270,"baseline":"middle","color":"#333"},"encoding":{"x":{"datum":{"year":2019,"month":12,"date":29},"type":"temporal","axis":null},"y":{"field":"v","type":"quantitative","title":null},"text":{"field":"t"}}},
{"data":{"values":[{"v":31,"t":"© ProRealTime.com  Dati di fine giornata"}]},"mark":{"type":"text","fontSize":5.5,"align":"left","baseline":"middle","color":"#555"},"encoding":{"x":{"datum":{"year":2019,"month":8,"date":31},"type":"temporal","axis":null},"y":{"field":"v","type":"quantitative","title":null},"text":{"field":"t"}}}
]
},
{
"width":632,"height":31,
"layer":[
{"data":{"name":"ind"},"mark":{"type":"area","color":"#e4c4d8","opacity":1},"encoding":{"x":{"field":"d","type":"temporal","scale":{"domain":[{"year":2019,"month":8,"date":30},{"year":2021,"month":1,"date":26}]},"axis":null},"y":{"field":"rsi","type":"quantitative","scale":{"domain":[-8,112],"nice":false,"zero":false},"title":null,"axis":{"orient":"right","title":null,"values":[50,100],"labelOverlap":false,"labelFontSize":7,"labelColor":"#333","tickSize":3,"tickColor":"#777","domain":false,"grid":false,"labelPadding":2}},"y2":{"datum":70}}},
{"data":{"name":"ind"},"mark":{"type":"area","color":"white","opacity":1},"encoding":{"x":{"field":"d","type":"temporal","axis":null},"y":{"datum":70,"type":"quantitative","title":null},"y2":{"datum":-8}}},
{"data":{"values":[{"v":70},{"v":30}]},"mark":{"type":"rule","color":"#888","strokeWidth":0.8},"encoding":{"y":{"field":"v","type":"quantitative","title":null}}},
{"data":{"name":"ind"},"mark":{"type":"line","color":"#555","strokeWidth":0.9},"encoding":{"x":{"field":"d","type":"temporal","axis":null},"y":{"field":"rsi","type":"quantitative","title":null}}},
{"data":{"values":[{"v":71.517,"t":"71.517"}]},"mark":{"type":"point","shape":"M-1,-0.47H1V0.47H-1Z","size":289,"filled":true,"fill":"white","stroke":"#888","strokeWidth":0.5,"opacity":1},"encoding":{"x":{"datum":{"year":2021,"month":2,"date":2},"type":"temporal","axis":null},"y":{"field":"v","type":"quantitative","title":null}}},
{"data":{"values":[{"v":71.517,"t":"71.517"}]},"mark":{"type":"text","fontSize":5.5,"baseline":"middle","color":"#333"},"encoding":{"x":{"datum":{"year":2021,"month":2,"date":2},"type":"temporal","axis":null},"y":{"field":"v","type":"quantitative","title":null},"text":{"field":"t"}}},
{"data":{"values":[{"v":112}]},"mark":{"type":"point","shape":"M-1,-0.29H1V0.29H-1Z","size":784,"filled":true,"fill":"#c8c8c8","stroke":"#999","strokeWidth":0.5,"opacity":1,"yOffset":5},"encoding":{"x":{"datum":{"year":2019,"month":9,"date":12},"type":"temporal","axis":null},"y":{"field":"v","type":"quantitative","title":null}}},
{"data":{"values":[{"v":112,"t":"■ RSI (14)"}]},"mark":{"type":"text","fontSize":6,"baseline":"middle","color":"#222","yOffset":5},"encoding":{"x":{"datum":{"year":2019,"month":9,"date":12},"type":"temporal","axis":null},"y":{"field":"v","type":"quantitative","title":null},"text":{"field":"t"}}}
]
},
{
"width":632,"height":31,
"layer":[
{"data":{"name":"ind"},"mark":{"type":"area","opacity":1,"color":{"gradient":"linear","x1":0,"y1":1,"x2":0,"y2":0,"stops":[{"offset":0,"color":"#f4f4fb"},{"offset":1,"color":"#8484c4"}]}},"encoding":{"x":{"field":"d","type":"temporal","scale":{"domain":[{"year":2019,"month":8,"date":30},{"year":2021,"month":1,"date":26}]},"axis":null},"y":{"field":"atr","type":"quantitative","scale":{"domain":[0,46],"nice":false,"zero":false},"title":null,"axis":{"orient":"right","title":null,"values":[40],"labelOverlap":false,"labelFontSize":7,"labelColor":"#333","tickSize":3,"tickColor":"#777","domain":false,"grid":false,"labelPadding":2}},"y2":{"datum":0}}},
{"data":{"name":"ind"},"mark":{"type":"line","color":"#333366","strokeWidth":1},"encoding":{"x":{"field":"d","type":"temporal","axis":null},"y":{"field":"atr","type":"quantitative","title":null}}},
{"data":{"values":[{"v":23.508,"t":"23.508"}]},"mark":{"type":"point","shape":"M-1,-0.47H1V0.47H-1Z","size":289,"filled":true,"fill":"white","stroke":"#888","strokeWidth":0.5,"opacity":1},"encoding":{"x":{"datum":{"year":2021,"month":2,"date":2},"type":"temporal","axis":null},"y":{"field":"v","type":"quantitative","title":null}}},
{"data":{"values":[{"v":23.508,"t":"23.508"}]},"mark":{"type":"text","fontSize":5.5,"baseline":"middle","color":"#333"},"encoding":{"x":{"datum":{"year":2021,"month":2,"date":2},"type":"temporal","axis":null},"y":{"field":"v","type":"quantitative","title":null},"text":{"field":"t"}}},
{"data":{"values":[{"v":46}]},"mark":{"type":"point","shape":"M-1,-0.29H1V0.29H-1Z","size":784,"filled":true,"fill":"#c8c8c8","stroke":"#999","strokeWidth":0.5,"opacity":1,"yOffset":5},"encoding":{"x":{"datum":{"year":2019,"month":9,"date":12},"type":"temporal","axis":null},"y":{"field":"v","type":"quantitative","title":null}}},
{"data":{"values":[{"v":46,"t":"■ ATR (14)"}]},"mark":{"type":"text","fontSize":6,"baseline":"middle","color":"#222","yOffset":5},"encoding":{"x":{"datum":{"year":2019,"month":9,"date":12},"type":"temporal","axis":null},"y":{"field":"v","type":"quantitative","title":null},"text":{"field":"t"}}}
]
},
{
"width":632,"height":35,
"layer":[
{"data":{"name":"ind"},"mark":{"type":"bar","size":8},"encoding":{"x":{"field":"d","type":"temporal","scale":{"domain":[{"year":2019,"month":8,"date":30},{"year":2021,"month":1,"date":26}]},"title":null,"axis":{"title":null,"orient":"bottom","values":[{"year":2019,"month":10,"date":1},{"year":2019,"month":11,"date":1},{"year":2019,"month":12,"date":1},{"year":2020,"month":1,"date":1},{"year":2020,"month":2,"date":1},{"year":2020,"month":3,"date":1},{"year":2020,"month":4,"date":1},{"year":2020,"month":5,"date":1},{"year":2020,"month":6,"date":1},{"year":2020,"month":7,"date":1},{"year":2020,"month":8,"date":1},{"year":2020,"month":9,"date":1},{"year":2020,"month":10,"date":1},{"year":2020,"month":11,"date":1},{"year":2020,"month":12,"date":1},{"year":2021,"month":1,"date":1}],"labelExpr":"month(datum.value)==0 ? timeFormat(datum.value,'%Y') : ['gen','feb','mar','apr','mag','giu','lug','ago','set','ott','nov','dic'][month(datum.value)]","labelFontSize":7,"labelColor":"#333","labelFontWeight":{"condition":{"test":"month(datum.value)==0","value":"bold"},"value":"normal"},"tickSize":2,"tickColor":"#888","domain":false,"grid":false,"labelPadding":1,"labelOverlap":false}},"y":{"field":"hist","type":"quantitative","scale":{"domain":[-20,56],"nice":false,"zero":false},"title":null,"axis":{"orient":"right","title":null,"values":[40],"labelOverlap":false,"labelFontSize":7,"labelColor":"#333","tickSize":3,"tickColor":"#777","domain":false,"grid":false,"labelPadding":2}},"y2":{"datum":0},"fill":{"condition":{"test":"datum.hist >= 0","value":"#3c9c3c"},"value":"#c44040"}}},
{"data":{"values":[{"v":0}]},"mark":{"type":"rule","color":"#999","strokeWidth":0.7},"encoding":{"y":{"field":"v","type":"quantitative","title":null}}},
{"data":{"name":"ind"},"mark":{"type":"line","color":"#3a3ab0","strokeWidth":0.9},"encoding":{"x":{"field":"d","type":"temporal","title":null},"y":{"field":"macd","type":"quantitative","title":null}}},
{"data":{"name":"ind"},"mark":{"type":"line","color":"#d04848","strokeWidth":0.9},"encoding":{"x":{"field":"d","type":"temporal","title":null},"y":{"field":"sig","type":"quantitative","title":null}}},
{"data":{"values":[{"v":24,"t":"15.493","c":"#3a3ab0"},{"v":12,"t":"11.038","c":"#3c9c3c"},{"v":0,"t":"7.4459","c":"#d04848"}]},"mark":{"type":"text","fontSize":5.5,"baseline":"middle"},"encoding":{"x":{"datum":{"year":2021,"month":2,"date":2},"type":"temporal","title":null},"y":{"field":"v","type":"quantitative","title":null},"text":{"field":"t"},"color":{"field":"c","type":"nominal","scale":null}}},
{"data":{"values":[{"v":56}]},"mark":{"type":"point","shape":"M-1,-0.19H1V0.19H-1Z","size":1764,"filled":true,"fill":"#c8c8c8","stroke":"#999","strokeWidth":0.5,"opacity":1,"yOffset":5},"encoding":{"x":{"datum":{"year":2019,"month":9,"date":17},"type":"temporal","title":null},"y":{"field":"v","type":"quantitative","title":null}}},
{"data":{"values":[{"v":56,"t":"■ MACD (12,26,9)"}]},"mark":{"type":"text","fontSize":6,"baseline":"middle","color":"#222","yOffset":5},"encoding":{"x":{"datum":{"year":2019,"month":9,"date":17},"type":"temporal","title":null},"y":{"field":"v","type":"quantitative","title":null},"text":{"field":"t"}}}
]
}
]
}
